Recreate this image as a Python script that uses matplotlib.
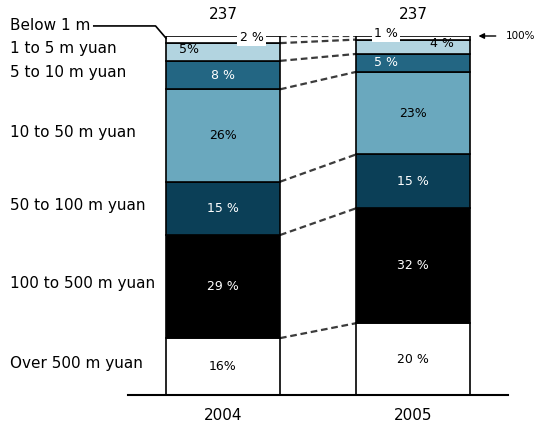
import matplotlib.pyplot as plt
import matplotlib.transforms as mtransforms
import numpy as np

# data
years = ['2004', '2005']
totals = [237, 237]
categories = ['Over 500 m yuan', '100 to 500 m yuan', '50 to 100 m yuan',
              '10 to 50 m yuan', '5 to 10 m yuan', '1 to 5 m yuan', 'Below 1 m']
share_2004 = [16, 29, 15, 26, 8, 5, 2]
share_2005 = [20, 32, 15, 23, 5, 4, 1]
labels_2004 = ['16%', '29 %', '15 %', '26%', '8 %', '5%', '2 %']
labels_2005 = ['20 %', '32 %', '15 %', '23%', '5 %', '4 %', '1 %']

colors = ['white', 'black', '#0b3f57', '#6aa8be', '#236683', '#b2d4e0', 'white']
text_colors = ['black', 'white', 'white', 'black', 'white', 'black', 'black']

# per-label nudges (x in bar units, y in percent points) for the thin top segments
dx = {(0, 5): -0.18, (0, 6): 0.15, (1, 5): 0.15, (1, 6): -0.14, (1, 4): -0.14}
dy = {(0, 5): 0.6, (0, 6): 0.5, (1, 5): 1.0, (1, 6): 1.3, (1, 4): 0.0}

fig = plt.figure(figsize=(5.39, 4.29), dpi=100)
ax = fig.add_axes([128 / 539, 34 / 429, 380 / 539, 359 / 429])
ax.set_xlim(-0.5, 1.5)
ax.set_ylim(0, 100)
ax.axis('off')

width = 0.6
cums = []
for i, (vals, labs) in enumerate([(share_2004, labels_2004), (share_2005, labels_2005)]):
    v = np.array(vals, dtype=float)
    v = v / v.sum() * 100  # stack to 100 %
    bottoms = np.concatenate([[0], np.cumsum(v)[:-1]])
    cums.append(np.cumsum(v))
    ax.bar(i, v, bottom=bottoms, width=width, color=colors,
           edgecolor='black', linewidth=1.2, zorder=2)
    for k, (b, h, lab) in enumerate(zip(bottoms, v, labs)):
        x = i + dx.get((i, k), 0)
        y = b + h / 2 + dy.get((i, k), 0)
        box = None
        if k == 6:
            box = dict(facecolor='white', edgecolor='none', pad=1.5)
        ax.text(x, y, lab, ha='center', va='center', fontsize=9,
                color=text_colors[k], bbox=box, zorder=5)
    ax.text(i, 106, str(totals[i]), ha='center', va='center', fontsize=11)
    ax.text(i, -5.6, years[i], ha='center', va='center', fontsize=11)

# dashed connectors between segment tops
for a, b in zip(cums[0], cums[1]):
    ax.plot([width / 2, 1 - width / 2], [a, b], color='#3c3c3c', lw=1.6,
            dashes=(3, 1.7), zorder=1)

# baseline
ax.plot([-0.5, 1.5], [0, 0], color='black', lw=1.5, clip_on=False, zorder=3)

# category labels on the left
trans = mtransforms.blended_transform_factory(fig.transFigure, ax.transData)
c04 = cums[0]
b04 = np.concatenate([[0], c04[:-1]])
label_y = list((b04 + c04) / 2 + 0.8)
label_y[5] = 96.4
label_y[6] = 103
for name, y in zip(categories, label_y):
    ax.text(10 / 539, y, name, transform=trans, ha='left', va='center', fontsize=11)

# leader for "Below 1 m"
ax.plot([-0.68, -0.355, -0.3], [102.8, 102.8, 99.4], color='black', lw=1.2,
        clip_on=False, zorder=3)

# 100 % marker on the right
ax.annotate('', xy=(1.33, 100), xytext=(1.45, 100),
            arrowprops=dict(arrowstyle='-|>', color='black', lw=1.0,
                            mutation_scale=8), annotation_clip=False)
ax.text(1.49, 100, '100%', ha='left', va='center', fontsize=7.5, clip_on=False)

fig.savefig('out.png', dpi=100)
